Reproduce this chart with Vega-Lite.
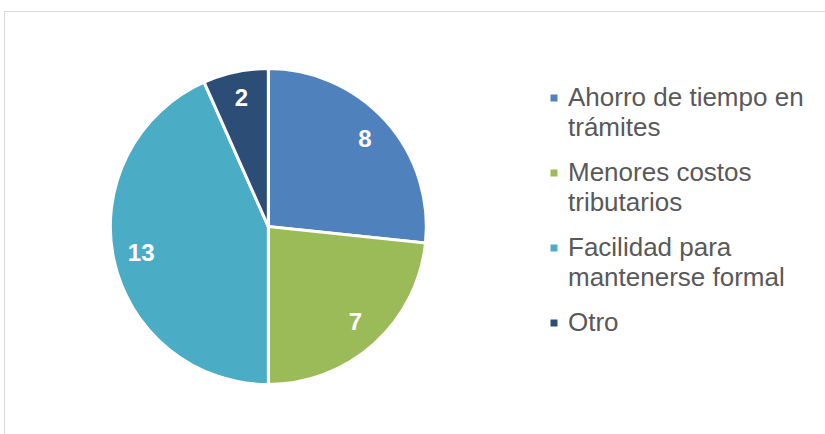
{
  "$schema": "https://vega.github.io/schema/vega-lite/v6.json",
  "width": 825,
  "height": 434,
  "autosize": {"type": "fit", "contains": "padding"},
  "padding": {"left": 4, "top": 11, "right": -3, "bottom": -3},
  "background": "white",
  "config": {
    "view": {"stroke": "#d9d9d9", "strokeWidth": 1},
    "font": "Liberation Sans",
    "style": {"guide-label": {"lineHeight": 30}}
  },
  "data": {
    "values": [
      {"categoria": "Ahorro de tiempo en trámites", "valor": 8, "orden": 1},
      {"categoria": "Menores costos tributarios", "valor": 7, "orden": 2},
      {"categoria": "Facilidad para mantenerse formal", "valor": 13, "orden": 3},
      {"categoria": "Otro", "valor": 2, "orden": 4}
    ]
  },
  "encoding": {
    "theta": {"field": "valor", "type": "quantitative", "stack": true},
    "order": {"field": "orden", "type": "ordinal"},
    "x": {"datum": 0.3208, "type": "quantitative", "scale": {"domain": [0, 1]}, "axis": null},
    "y": {"datum": 0.494, "type": "quantitative", "scale": {"domain": [0, 1]}, "axis": null}
  },
  "layer": [
    {
      "mark": {"type": "arc", "outerRadius": 158, "stroke": "white", "strokeWidth": 3},
      "encoding": {
        "color": {
          "field": "categoria",
          "type": "nominal",
          "scale": {
            "domain": ["Ahorro de tiempo en trámites", "Menores costos tributarios", "Facilidad para mantenerse formal", "Otro"],
            "range": ["#4f81bd", "#9bbb59", "#4bacc6", "#2c4d75"]
          },
          "legend": {
            "title": null,
            "orient": "none",
            "legendX": 537,
            "legendY": 74,
            "symbolType": "square",
            "symbolSize": 49,
            "symbolStrokeWidth": 0,
            "labelFont": "Liberation Sans",
            "labelFontSize": 26,
            "labelColor": "#595959",
            "labelLimit": 400,
            "labelOffset": 1,
            "rowPadding": 19,
            "labelExpr": "datum.label == 'Ahorro de tiempo en trámites' ? ['Ahorro de tiempo en', 'trámites'] : datum.label == 'Menores costos tributarios' ? ['Menores costos', 'tributarios'] : datum.label == 'Facilidad para mantenerse formal' ? ['Facilidad para', 'mantenerse formal'] : datum.label"
          }
        }
      }
    },
    {
      "mark": {"type": "text", "radius": 130, "fill": "white", "fontSize": 24, "fontWeight": "bold", "font": "Liberation Sans"},
      "encoding": {
        "text": {"field": "valor", "type": "quantitative"}
      }
    }
  ]
}
